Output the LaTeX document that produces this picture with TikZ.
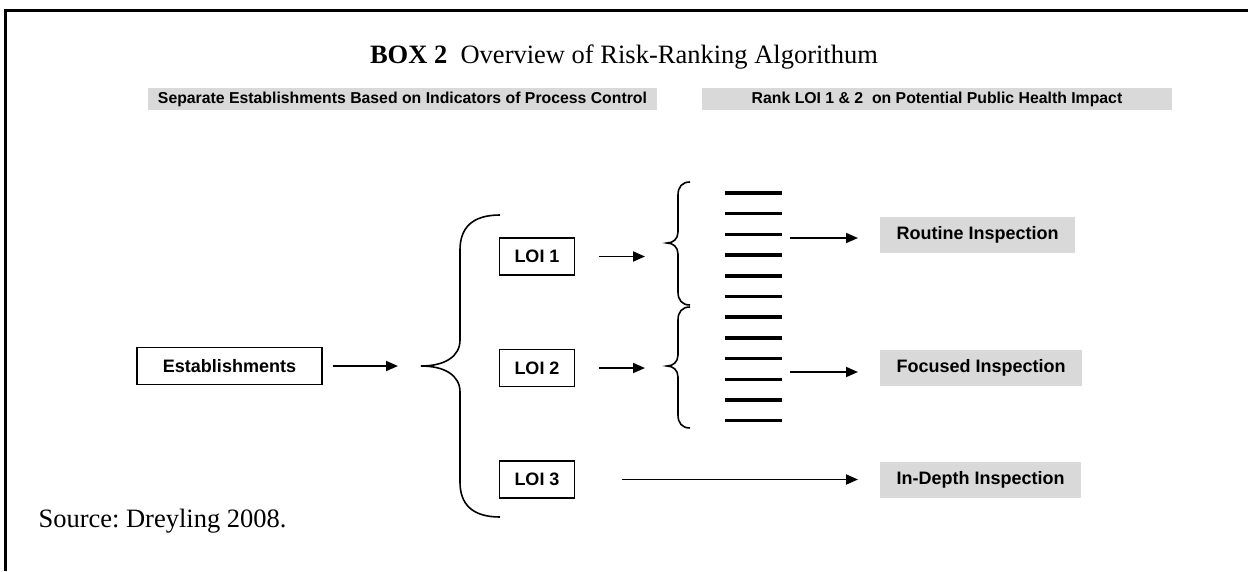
\documentclass[tikz,border=0pt]{standalone}
\usepackage{fontspec}
\setmainfont{Liberation Serif}
\setsansfont{Liberation Sans}
\usetikzlibrary{arrows.meta, positioning, calc}
\definecolor{cinza}{HTML}{D9D9D9}
\frenchspacing

\begin{document}
\begin{tikzpicture}[x=1pt, y=-1pt,
    nivel/.style={draw, line width=1.6pt, minimum height=37pt, inner xsep=15pt,
                  font=\sffamily\bfseries\fontsize{18}{20}\selectfont},
    destino/.style={fill=cinza, minimum height=36pt, inner xsep=16.5pt, anchor=west,
                    font=\sffamily\bfseries\fontsize{18}{20}\selectfont},
    faixa/.style={fill=cinza, minimum height=22pt, inner sep=0pt,
                  font=\sffamily\bfseries\fontsize{15.8}{17}\selectfont},
    seta/.style={-{Triangle[length=12pt, width=10pt]}, line width=1.8pt},
    chave/.style={line width=1.6pt},
    traco/.style={line width=3.5pt}
]
    \useasboundingbox (0,0) rectangle (1248,571);
    \draw[line width=3pt] (1248,10) -- (5,10) -- (5,571);

    \node[font=\fontsize{26.5}{30}\selectfont] (titulo) at (624,57)
        {\textbf{BOX 2}\hspace{0.5em}Overview of Risk-Ranking Algorithum};
    \node[faixa, minimum width=509pt] (faixa1) at (402.5,99)
        {Separate Establishments Based on Indicators of Process Control};
    \node[faixa, minimum width=470pt] (faixa2) at (937,99)
        {Rank LOI 1 \& 2\hspace{0.28em} on Potential Public Health Impact};

    \node[nivel, minimum width=185pt] (estab) at (229.5,366) {Establishments};
    \node[nivel] (loi1) at (537,256.5) {LOI 1};
    \node[nivel] (loi2) at (537,368) {LOI 2};
    \node[nivel] (loi3) at (537,479.5) {LOI 3};

    \node[destino] (rotina) at (880,235) {Routine Inspection};
    \node[destino] (focada) at (880,368) {Focused Inspection};
    \node[destino] (profunda) at (880,480) {In-Depth Inspection};

    % chave grande
    \coordinate (pontaA) at (421,366);
    \draw[chave] (500,215) .. controls (472,215) and (460,228) .. (460,250) -- (460,340)
        .. controls (460,357) and (444,366) .. (pontaA)
        .. controls (444,366) and (460,375) .. (460,392) -- (460,482)
        .. controls (460,504) and (472,517) .. (500,517);

    % chaves pequenas
    \foreach \t/\m/\b/\nome in {182/243/305/cima, 307/366/428/baixo} {
        \coordinate (\nome) at (667,\m);
        \draw[chave] (690,\t) .. controls (682,\t) and (678,\t+5) .. (678,\t+13) -- (678,\m-11)
            .. controls (678,\m-4) and (673,\m) .. (\nome)
            .. controls (673,\m) and (678,\m+4) .. (678,\m+11) -- (678,\b-13)
            .. controls (678,\b-5) and (682,\b) .. (690,\b);
    }

    % ranking
    \foreach \i in {0,...,11}
        \draw[traco] (725,193+20.7*\i) -- (782,193+20.7*\i);
    \coordinate (saidaA) at (790,238);
    \coordinate (saidaB) at (790,372);

    \draw[seta, shorten <=10pt, shorten >=23pt] (estab.east) -- (estab.east -| pontaA);
    \draw[seta, shorten <=24pt, shorten >=22pt] (loi1.east) -- (loi1.east -| cima);
    \draw[seta, shorten <=24pt, shorten >=22pt] (loi2.east) -- (loi2.east -| baixo);
    \draw[seta, shorten >=22pt] (saidaA) -- (saidaA -| rotina.west);
    \draw[seta, shorten >=22pt] (saidaB) -- (saidaB -| focada.west);
    \draw[seta, shorten <=47pt, shorten >=22pt] (loi3.east) -- (loi3.east -| profunda.west);

    \node[anchor=base west, font=\fontsize{26.5}{30}\selectfont] (fonte) at (35,527)
        {Source: Dreyling 2008.};
\end{tikzpicture}
\end{document}
